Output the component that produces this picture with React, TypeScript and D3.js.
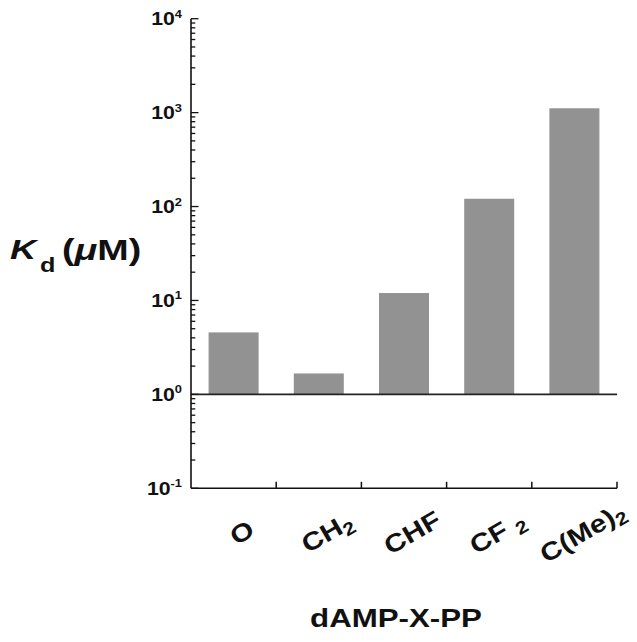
import React from "react";
import * as d3 from "d3";

const categories = ["O", "CH2", "CHF", "CF2", "C(Me)2"];
const kdValues = [4.57, 1.67, 12.0, 121, 1112];
const yTickExponents = [4, 3, 2, 1, 0, -1];
const xTitle = "dAMP-X-PP";

const W = 637;
const H = 642;
const FONT = "'Liberation Sans', Arial, Helvetica, sans-serif";

function CatLabel({ name }: { name: string }) {
  const sub = (s: string) => (
    <tspan fontSize={18} dy={5}>
      {s}
    </tspan>
  );
  if (name === "CH2") return <>CH{sub("2")}</>;
  if (name === "CF2") return <>CF {sub("2")}</>;
  if (name === "C(Me)2") return <>C(Me){sub("2")}</>;
  return <>{name}</>;
}

export default function App() {
  const left = 191;
  const right = 617;
  const top = 18.7;
  const bottom = 488.3;

  const y = d3.scaleLog().domain([0.1, 10000]).range([bottom, top]);
  const x = d3
    .scaleBand<string>()
    .domain(categories)
    .range([left, right])
    .paddingInner(0.413)
    .paddingOuter(0.2065);

  const step = x.step();
  const boundaries = categories.map((c) => (x(c) as number) - step * 0.2065 + step);

  const minorTicks: { v: number; major: boolean }[] = [];
  for (let e = -1; e <= 4; e++) {
    for (let m = 1; m <= 9; m++) {
      const v = m * Math.pow(10, e);
      if (v > 10000) break;
      minorTicks.push({ v, major: m === 1 });
    }
  }

  const baseY = y(1);

  return (
    <svg width={W} height={H} style={{ display: "block", position: "absolute", left: 0, top: 0 }} fontFamily={FONT}>
      <rect x={0} y={0} width={W} height={H} fill="#fff" />
      {categories.map((c, i) => {
        const v = kdValues[i];
        const yv = y(v);
        return (
          <rect
            key={c}
            x={x(c)}
            y={Math.min(yv, baseY)}
            width={x.bandwidth()}
            height={Math.abs(baseY - yv)}
            fill="#929292"
          />
        );
      })}
      <line x1={left} x2={right} y1={baseY} y2={baseY} stroke="#222" strokeWidth={1.6} />
      <line x1={left} x2={left} y1={top} y2={bottom} stroke="#111" strokeWidth={1.6} />
      {minorTicks.map((t, i) => (
        <line
          key={i}
          x1={left}
          x2={left + (t.major ? 7.5 : 4.3)}
          y1={y(t.v)}
          y2={y(t.v)}
          stroke="#111"
          strokeWidth={1.3}
        />
      ))}
      <line x1={left} x2={right} y1={bottom} y2={bottom} stroke="#111" strokeWidth={1.6} />
      {boundaries.map((bx, i) => (
        <line key={i} x1={bx} x2={bx} y1={bottom} y2={bottom - 6.5} stroke="#111" strokeWidth={1.5} />
      ))}
      {yTickExponents.map((e) => (
        <g key={e} transform={`translate(182,${y(Math.pow(10, e)) + 6.5}) scale(1.12,1)`}>
          <text textAnchor="end" fontWeight="bold" fontSize={19} fill="#111">
            10
            <tspan fontSize={11.5} dy={-7.5}>
              {e}
            </tspan>
          </text>
        </g>
      ))}
      {categories.map((c) => {
        const cx = (x(c) as number) + x.bandwidth() / 2 + 12.5;
        return (
          <g key={c} transform={`translate(${cx},540) rotate(-30) scale(1.18,1)`}>
            <text textAnchor="middle" fontWeight="bold" fontSize={25} fill="#111">
              <CatLabel name={c} />
            </text>
          </g>
        );
      })}
      <g transform="translate(10,258.5) scale(1.3,1)">
        <text fontWeight="bold" fontStyle="italic" fontSize={28} fill="#111">
          K
        </text>
      </g>
      <g transform="translate(40,272) scale(1.2,1)">
        <text fontWeight="bold" fontSize={21} fill="#111">
          d
        </text>
      </g>
      <g transform="translate(62,259.5) scale(1.3,1)">
        <text fontWeight="bold" fontSize={29} fill="#111">
          (<tspan fontStyle="italic">μ</tspan>M)
        </text>
      </g>
      <g transform="translate(396,627.3) scale(1.25,1)">
        <text textAnchor="middle" fontWeight="bold" fontSize={25} fill="#111">
          {xTitle}
        </text>
      </g>
    </svg>
  );
}
